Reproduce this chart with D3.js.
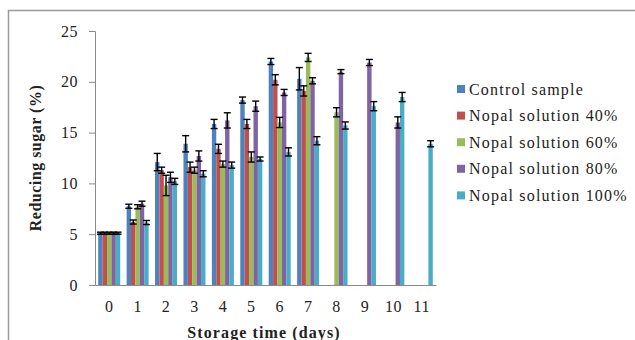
<!DOCTYPE html>
<html>
<head>
<meta charset="utf-8">
<script src="https://cdn.jsdelivr.net/npm/d3@7"></script>
<style>
  body { margin: 0; background: #fff; }
  svg text { font-family: "Liberation Serif", "Times New Roman", serif; }
</style>
</head>
<body>
<div id="chart"></div>
<script>
// storage days on the x axis
const days = ["0", "1", "2", "3", "4", "5", "6", "7", "8", "9", "10", "11"];

const seriesNames = [
  "Control sample",
  "Nopal solution 40%",
  "Nopal solution 60%",
  "Nopal solution 80%",
  "Nopal solution 100%"
];
const seriesColors = ["#4F81BD", "#C0504D", "#9BBB59", "#8064A2", "#4BACC6"];

// reducing sugar (%) per series, null = no bar
const control = [5.1, 7.75, 12.1, 13.9, 15.85, 18.2, 22.0, 20.3, null, null, null, null];
const nopal40 = [5.1, 6.2, 11.3, 11.6, 13.4, 15.85, 20.2, 19.1, null, null, null, null];
const nopal60 = [5.1, 7.7, 9.8, 11.3, 11.9, 12.6, 16.0, 22.4, 17.0, null, null, null];
const nopal80 = [5.1, 8.0, 10.6, 12.7, 16.2, 17.6, 18.95, 20.1, 21.0, 21.9, 16.0, null];
const nopal100 = [5.1, 6.15, 10.2, 10.95, 11.8, 12.4, 13.1, 14.2, 15.7, 17.6, 18.5, 13.9];

// error (+/-)
const controlErr = [0.1, 0.2, 0.85, 0.8, 0.45, 0.3, 0.3, 1.1, null, null, null, null];
const nopal40Err = [0.1, 0.2, 0.3, 0.5, 0.45, 0.45, 0.5, 0.5, null, null, null, null];
const nopal60Err = [0.1, 0.2, 1.0, 0.3, 0.3, 0.5, 0.5, 0.4, 0.45, null, null, null];
const nopal80Err = [0.1, 0.25, 0.5, 0.5, 0.75, 0.5, 0.3, 0.3, 0.2, 0.3, 0.55, null];
const nopal100Err = [0.1, 0.2, 0.3, 0.3, 0.3, 0.2, 0.4, 0.4, 0.35, 0.45, 0.45, 0.3];

const yTicks = [0, 5, 10, 15, 20, 25];

const values = [control, nopal40, nopal60, nopal80, nopal100];
const errors = [controlErr, nopal40Err, nopal60Err, nopal80Err, nopal100Err];

const W = 635, H = 340;
const m = { left: 95, right: 199, top: 31, bottom: 55 };

const svg = d3.select("#chart").append("svg")
  .attr("width", W)
  .attr("height", H);

// chart frame (cut by the picture edge)
svg.append("rect")
  .attr("x", 8.5).attr("y", 10.5)
  .attr("width", 700).attr("height", 400)
  .attr("fill", "none")
  .attr("stroke", "#9a9a9a")
  .attr("stroke-width", 1.5);

const x0 = d3.scaleBand()
  .domain(days)
  .range([m.left, W - m.right])
  .paddingInner(0.226)
  .paddingOuter(0.113);

const x1 = d3.scaleBand()
  .domain(d3.range(seriesNames.length))
  .range([0, x0.bandwidth()]);

const y = d3.scaleLinear()
  .domain([0, 25])
  .range([H - m.bottom, m.top]);

// bars
const rows = [];
values.forEach((vals, s) => {
  vals.forEach((v, i) => {
    if (v != null) rows.push({ s, day: days[i], v, e: errors[s][i] });
  });
});

svg.append("g")
  .selectAll("rect")
  .data(rows)
  .join("rect")
    .attr("x", d => x0(d.day) + x1(d.s))
    .attr("y", d => y(d.v))
    .attr("width", x1.bandwidth())
    .attr("height", d => y(0) - y(d.v))
    .attr("fill", d => seriesColors[d.s]);

// axes
const yAxis = svg.append("g")
  .attr("transform", `translate(${m.left},0)`)
  .call(d3.axisLeft(y).tickValues(yTicks).tickSize(6).tickPadding(11));
yAxis.select(".domain").attr("stroke", "#8a8a8a");
yAxis.selectAll(".tick line").attr("stroke", "#8a8a8a");
yAxis.selectAll("text")
  .attr("font-size", 16)
  .attr("fill", "#222")
  .attr("letter-spacing", 0.5);

const xAxis = svg.append("g")
  .attr("transform", `translate(0,${y(0)})`)
  .call(d3.axisBottom(x0).tickSize(0).tickPadding(16));
xAxis.select(".domain").attr("stroke", "#8a8a8a");
xAxis.selectAll("text")
  .attr("font-size", 16)
  .attr("fill", "#222")
  .attr("letter-spacing", 0.5);

// error bars
const cap = 3.5;
const eb = svg.append("g")
  .attr("stroke", "#000")
  .attr("stroke-width", 1.4)
  .selectAll("g")
  .data(rows.filter(d => d.e != null))
  .join("g")
    .attr("transform", d => `translate(${x0(d.day) + x1(d.s) + x1.bandwidth() / 2},0)`);
eb.append("line")
  .attr("y1", d => y(d.v + d.e))
  .attr("y2", d => y(d.v - d.e));
eb.append("line")
  .attr("x1", -cap).attr("x2", cap)
  .attr("y1", d => y(d.v + d.e)).attr("y2", d => y(d.v + d.e));
eb.append("line")
  .attr("x1", -cap).attr("x2", cap)
  .attr("y1", d => y(d.v - d.e)).attr("y2", d => y(d.v - d.e));

// axis titles
svg.append("text")
  .attr("transform", `translate(41,${(m.top + H - m.bottom) / 2}) rotate(-90)`)
  .attr("text-anchor", "middle")
  .attr("font-size", 16)
  .attr("font-weight", "bold")
  .attr("letter-spacing", 0.5)
  .attr("fill", "#222")
  .text("Reducing sugar (%)");

svg.append("text")
  .attr("x", 264)
  .attr("y", 338)
  .attr("text-anchor", "middle")
  .attr("font-size", 16)
  .attr("font-weight", "bold")
  .attr("letter-spacing", 1.1)
  .attr("fill", "#222")
  .text("Storage time (days)");

// legend
const legend = svg.append("g")
  .selectAll("g")
  .data(seriesNames)
  .join("g")
    .attr("transform", (d, i) => `translate(457,${89 + i * 26.6})`);
legend.append("rect")
  .attr("x", 0).attr("y", -4)
  .attr("width", 8).attr("height", 8)
  .attr("fill", (d, i) => seriesColors[i]);
legend.append("text")
  .attr("x", 12)
  .attr("y", 5.5)
  .attr("font-size", 16)
  .attr("letter-spacing", 1.2)
  .attr("fill", "#222")
  .text(d => d);
</script>
</body>
</html>
